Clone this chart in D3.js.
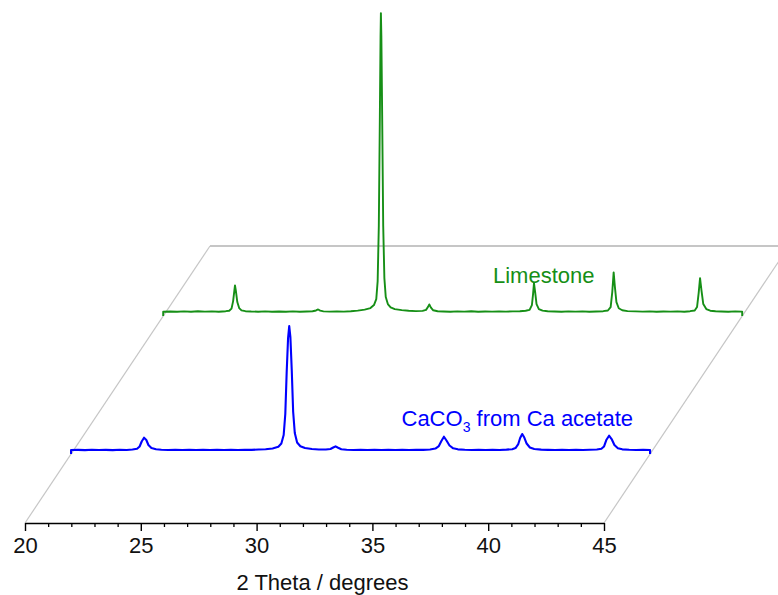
<!DOCTYPE html>
<html>
<head>
<meta charset="utf-8">
<script src="https://cdn.jsdelivr.net/npm/d3@7/dist/d3.min.js"></script>
<style>
  html, body { margin: 0; padding: 0; background: #fff; }
  svg { display: block; font-family: "Liberation Sans", Arial, sans-serif; }
</style>
</head>
<body>
<svg id="chart" width="778" height="595"></svg>
<script>
// ---------------- DATA ----------------
const xTicksMajor = [20, 25, 30, 35, 40, 45];
const xTicksMinor = [21, 22, 23, 24, 26, 27, 28, 29, 31, 32, 33, 34, 36, 37, 38, 39, 41, 42, 43, 44];
const axisTitle = "2 Theta / degrees";

const seriesNames = ["CaCO3 from Ca acetate", "Limestone"];
const seriesDepth = [0.249, 0.747];   // position along the depth axis (0 = front, 1 = back)

// Limestone pattern: [2θ, counts]
const limestone = [
  [20,0],[20,44],[20.3,46],[20.6,43],[20.9,47],[21.2,44],[21.5,48],[21.8,45],[22.1,47],[22.4,44],
  [22.7,49],[22.85,53],[22.95,75],[23.02,150],[23.07,250],[23.10,307],[23.14,250],[23.2,140],[23.28,80],
  [23.38,57],[23.55,49],[23.8,46],[24.1,44],[24.4,47],[24.7,43],[25.0,46],[25.3,44],[25.6,47],[25.9,44],
  [26.2,46],[26.45,48],[26.6,56],[26.69,66],[26.78,55],[26.92,47],[27.2,45],[27.5,47],[27.8,45],[28.1,48],
  [28.4,55],[28.7,65],[28.95,80],[29.1,110],[29.2,170],[29.26,350],[29.31,900],[29.355,2000],[29.385,2800],
  [29.40,3030],[29.42,2800],[29.455,2000],[29.50,900],[29.55,380],[29.61,190],[29.7,120],[29.82,88],[30.0,70],
  [30.3,60],[30.6,54],[30.9,50],[31.2,52],[31.35,62],[31.43,90],[31.49,117],[31.56,85],[31.66,58],[31.85,48],
  [32.1,46],[32.4,44],[32.7,47],[33.0,45],[33.3,48],[33.6,44],[33.9,46],[34.2,45],[34.5,47],[34.8,45],
  [35.1,47],[35.4,49],[35.65,53],[35.82,62],[35.92,110],[35.97,220],[36.01,330],[36.06,240],[36.12,120],
  [36.22,70],[36.38,54],[36.6,48],[36.9,46],[37.2,44],[37.5,47],[37.8,45],[38.1,47],[38.4,44],[38.7,46],
  [39.0,49],[39.2,56],[39.32,90],[39.39,240],[39.45,437],[39.5,300],[39.57,140],[39.67,78],[39.82,58],
  [40.05,50],[40.4,47],[40.7,45],[41.0,47],[41.3,44],[41.6,46],[41.9,45],[42.2,47],[42.5,44],[42.75,49],
  [42.95,56],[43.05,90],[43.12,230],[43.18,380],[43.24,260],[43.32,120],[43.45,70],[43.62,54],[43.85,48],
  [44.1,46],[44.4,44],[44.7,47],[45.0,45],[45.0,0]
];

// CaCO3 from Ca acetate pattern: [2θ, counts]
const acetate = [
  [20,0],[20,40],[20.3,42],[20.6,39],[20.9,43],[21.2,40],[21.5,42],[21.8,39],[22.1,43],[22.4,41],
  [22.65,45],[22.85,52],[22.96,75],[23.05,125],[23.15,163],[23.25,140],[23.34,90],[23.47,60],[23.67,48],
  [23.9,43],[24.2,41],[24.5,43],[24.8,40],[25.1,42],[25.4,40],[25.7,43],[26.0,41],[26.3,43],[26.6,40],
  [26.9,42],[27.2,41],[27.5,43],[27.8,42],[28.1,45],[28.4,48],[28.7,56],[28.95,72],[29.08,105],[29.18,190],
  [29.25,400],[29.31,820],[29.37,1160],[29.42,1280],[29.47,1170],[29.53,830],[29.59,420],[29.66,210],
  [29.76,115],[29.9,78],[30.1,60],[30.4,50],[30.7,46],[31.0,45],[31.2,50],[31.32,65],[31.42,77],[31.53,63],
  [31.67,48],[31.9,43],[32.2,41],[32.5,43],[32.8,40],[33.1,42],[33.4,41],[33.7,43],[34.0,40],[34.3,42],
  [34.6,41],[34.9,43],[35.2,42],[35.5,46],[35.73,55],[35.88,80],[35.99,130],[36.1,173],[36.21,135],[36.34,85],
  [36.5,57],[36.7,47],[37.0,43],[37.3,41],[37.6,43],[37.9,40],[38.2,42],[38.5,41],[38.8,44],[39.05,48],
  [39.19,60],[39.31,100],[39.39,160],[39.48,200],[39.57,165],[39.67,105],[39.81,65],[40.0,50],[40.3,44],
  [40.6,42],[40.9,40],[41.2,43],[41.5,41],[41.8,42],[42.1,40],[42.4,43],[42.7,46],[42.9,52],[43.01,75],
  [43.11,140],[43.23,183],[43.34,150],[43.46,90],[43.61,58],[43.8,47],[44.1,43],[44.4,41],[44.7,42],
  [45.0,41],[45.0,0]
];

// ---------------- DRAWING ----------------
const svg = d3.select("#chart");

const x = d3.scaleLinear().domain([20, 45]).range([25, 604]);
const axisY = 523;
// depth axis: offset in pixels
const depthX = d3.scaleLinear().domain([0, 1]).range([0, 185]);
const depthY = d3.scaleLinear().domain([0, 1]).range([0, -277]);
// intensity → height in pixels
const yI = d3.scaleLinear().domain([0, 3040]).range([0, 304]);

const floorColor = "#c6c6c6";
// floor (parallelogram) edges
const corner = (t, d) => [x(t) + depthX(d), axisY + depthY(d)];
const floor = svg.append("g");
[[corner(20,0), corner(20,1)], [corner(20,1), corner(45,1)], [corner(45,0), corner(45,1)]].forEach((seg, i) => {
  floor.append("line")
    .attr("x1", seg[0][0]).attr("y1", seg[0][1])
    .attr("x2", seg[1][0]).attr("y2", seg[1][1])
    .attr("stroke", floorColor)
    .attr("stroke-width", i === 1 ? 2 : 1.2);
});

// axis
const axis = svg.append("g").attr("transform", `translate(0,${axisY})`);
axis.call(d3.axisBottom(x).tickValues(xTicksMajor).tickSize(8).tickSizeOuter(0).tickPadding(6).tickFormat(d3.format("d")));
axis.select(".domain").attr("stroke", "#000").attr("stroke-width", 1.5);
axis.selectAll(".tick line").attr("stroke", "#000").attr("stroke-width", 1.4);
axis.selectAll(".tick text")
  .attr("font-family", "'Liberation Sans', Arial, sans-serif")
  .attr("font-size", 22).attr("fill", "#111")
  .attr("dy", null)
  .attr("y", 30);
const minorAxis = svg.append("g").attr("transform", `translate(0,${axisY})`);
minorAxis.call(d3.axisBottom(x).tickValues(xTicksMinor).tickSize(4).tickSizeOuter(0).tickFormat(""));
minorAxis.select(".domain").remove();
minorAxis.selectAll(".tick line").attr("stroke", "#000").attr("stroke-width", 1.3);

svg.append("text")
  .attr("x", 322.5).attr("y", 590)
  .attr("text-anchor", "middle")
  .attr("font-size", 22).attr("fill", "#111")
  .text(axisTitle);

// traces
const colors = ["#0000ff", "#168f16"];
const datasets = [acetate, limestone];
// draw back series first
[1, 0].forEach(i => {
  const d = seriesDepth[i];
  const line = d3.line()
    .x(p => x(p[0]) + depthX(d))
    .y(p => axisY + depthY(d) - yI(p[1]));
  svg.append("path")
    .datum(datasets[i])
    .attr("d", line)
    .attr("fill", "none")
    .attr("stroke", colors[i])
    .attr("stroke-width", i === 0 ? 2.1 : 1.9)
    .attr("stroke-linejoin", "round");
});

// labels
svg.append("text")
  .attr("x", 493).attr("y", 283)
  .attr("font-size", 22).attr("fill", colors[1])
  .text(seriesNames[1]);

const lab = svg.append("text")
  .attr("x", 401.5).attr("y", 426)
  .attr("font-size", 22).attr("fill", colors[0]);
lab.append("tspan").text("CaCO");
lab.append("tspan").attr("font-size", 14).attr("dy", 6).text("3");
lab.append("tspan").attr("dy", -6).text(" from Ca acetate");
</script>
</body>
</html>
